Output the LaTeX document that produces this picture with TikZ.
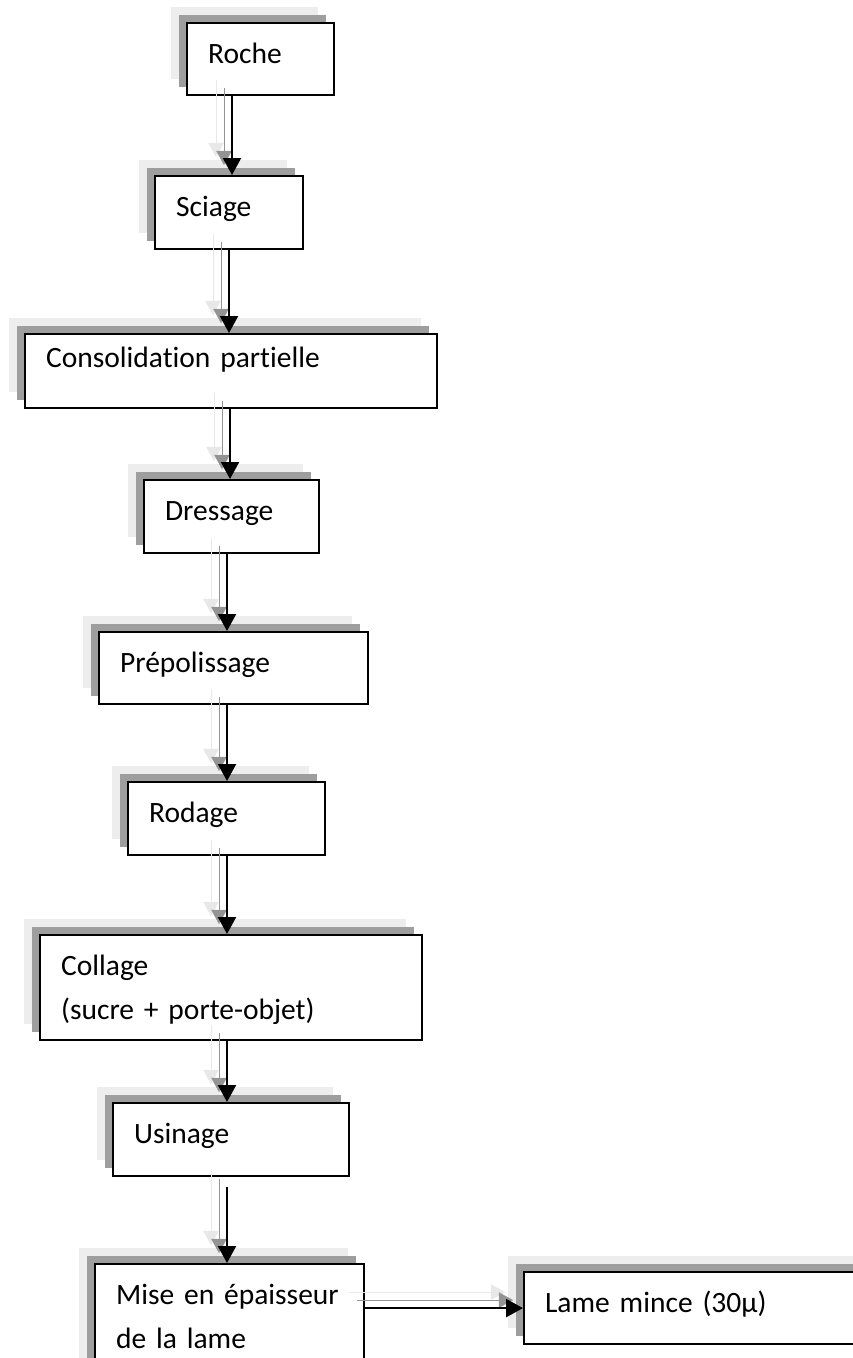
\documentclass[tikz,border=0pt]{standalone}
\usepackage{fontspec}
\setmainfont{Carlito}[Ligatures=NoCommon]
\usetikzlibrary{arrows.meta,shadows}

\begin{document}
\begin{tikzpicture}[x=1pt, y=-1pt,
  font=\fontsize{29.5}{44}\selectfont,
  box/.style 2 args={draw=black, line width=2.2pt, fill=white, anchor=north west, align=left,
    inner xsep=21pt, inner ysep=0pt, text width=#1, text height=40pt, text depth=#2,
    general shadow={draw=none, fill=black!7, shadow xshift=-16pt, shadow yshift=16pt},
    general shadow={draw=none, fill=black!38, shadow xshift=-8pt, shadow yshift=8pt}},
  arr/.style={-{Triangle[length=17pt, width=18pt]}, line width=2.2pt, black,
    preaction={draw=black!9, transform canvas={shift={(-16pt,16pt)}}},
    preaction={draw=black!42, transform canvas={shift={(-8pt,8pt)}}}}]
\useasboundingbox (0,0) rectangle (853,1358);
\clip (0,0) rectangle (853,1358);
\node[box={105pt}{32pt}] (roche) at (186,22) {Roche};
\node[box={106pt}{33pt}] (sciage) at (154,175) {Sciage};
\node[box={370pt}{41pt}, text height=33pt] (consol) at (24,333) {Consolidation partielle};
\node[box={133pt}{33pt}] (dress) at (143,479) {Dressage};
\node[box={227pt}{32pt}] (prepol) at (98,631) {Prépolissage};
\node[box={155pt}{33pt}] (rodage) at (127,781) {Rodage};
\node[box={340pt}{65pt}] (collage) at (39,934) {Collage\\(sucre + porte-objet)};
\node[box={194pt}{33pt}] (usinage) at (112,1102) {Usinage};
\node[box={227pt}{97pt}] (mise) at (94,1263) {Mise en épaisseur\\de la lame};
\node[box={315pt}{32pt}] (lame) at (523,1271) {Lame mince (30μ)};
\draw[arr] (roche.south -| 232,0) -- (sciage.north -| 232,0);
\draw[arr] (sciage.south -| 229,0) -- (consol.north -| 229,0);
\draw[arr] (consol.south -| 230,0) -- (dress.north -| 230,0);
\draw[arr] (dress.south -| 227,0) -- (prepol.north -| 227,0);
\draw[arr] (prepol.south -| 227,0) -- (rodage.north -| 227,0);
\draw[arr] (rodage.south -| 227,0) -- (collage.north -| 227,0);
\draw[arr] (collage.south -| 227,0) -- (usinage.north -| 227,0);
\draw[arr] ([yshift=-10pt]usinage.south -| 227,0) -- (mise.north -| 227,0);
\draw[arr] (lame.west -| mise.east) -- (lame.west);
\end{tikzpicture}
\end{document}
